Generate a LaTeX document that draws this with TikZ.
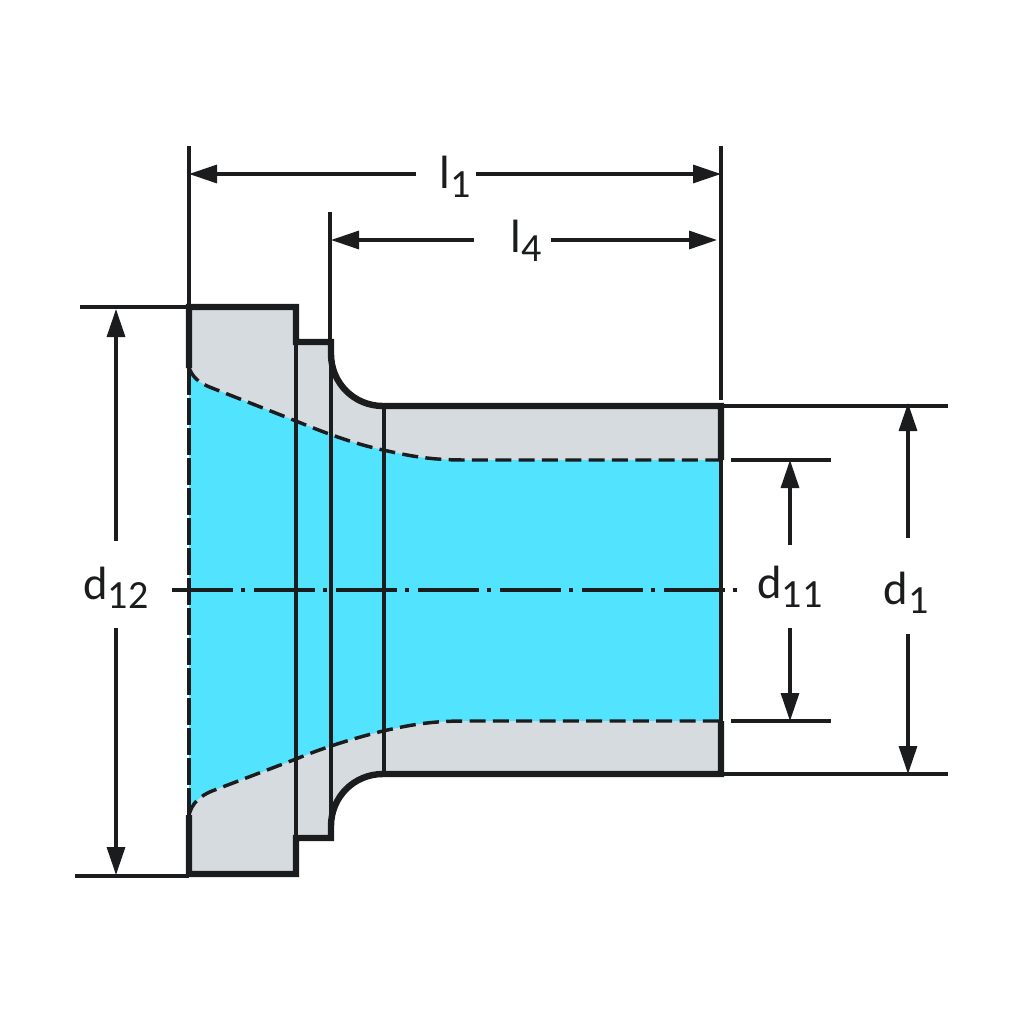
\documentclass[tikz,border=0pt]{standalone}
\usepackage{fontspec}
\setmainfont{Carlito}
\usetikzlibrary{arrows.meta}
\definecolor{inkc}{HTML}{1A1C1E}
\definecolor{bodyc}{HTML}{D5DBDF}
\definecolor{borec}{HTML}{52E3FF}
\newcommand{\lbl}[2]{{\fontsize{35}{35}\selectfont #1\raisebox{-6.5pt}{\fontsize{30}{30}\selectfont #2}}}
\tikzset{
  x=0.75pt,y=-0.75pt,
  thickline/.style={draw=inkc,line width=4.8pt,line join=miter},
  thinline/.style={draw=inkc,line width=2.5pt},
  dashline/.style={draw=inkc,line width=2.6pt,dash pattern=on 12pt off 5.5pt},
  dimline/.style={draw=inkc,line width=2.4pt},
  dimarrow/.style={dimline,-{Triangle[length=21pt,width=13.5pt]}},
  dimlabel/.style={inner sep=0pt,text=inkc,anchor=center},
}
\begin{document}
\begin{tikzpicture}
\useasboundingbox (0,0) rectangle (1024,1024);
% body
\fill[bodyc] (189,307) -- (296,307) -- (296,342) -- (331,342) -- (331,354)
  .. controls (331,383) and (354,406) .. (383,406) -- (721,406) -- (721,774) -- (383,774)
  .. controls (354,774) and (331,797) .. (331,826) -- (331,838) -- (296,838) -- (296,874) -- (189,874) -- cycle;
% bore
\fill[borec] (189,368) .. controls (194,380) and (202,384) .. (212,388)
  -- (296,421) .. controls (325,433) and (355,444) .. (383,450)
  .. controls (410,456) and (430,460) .. (465,460) -- (721,460) -- (721,721) -- (465,721)
  .. controls (430,721) and (410,725) .. (383,731)
  .. controls (355,738) and (325,747) .. (296,759) -- (212,791)
  .. controls (200,796) and (192,803) .. (189,815) -- cycle;
% section lines
\coordinate (s1t) at (296,342); \coordinate (s1b) at (296,838);
\coordinate (s2t) at (331,342); \coordinate (s2b) at (331,838);
\coordinate (s3t) at (384,406); \coordinate (s3b) at (384,774);
\draw[thinline] (s1t) -- (s1b);
\draw[thinline] (s2t) -- (s2b);
\draw[thinline] (s3t) -- (s3b);
% dashed contours
\draw[dashline] (189,368) .. controls (194,380) and (202,384) .. (212,388)
  -- (296,421) .. controls (325,433) and (355,444) .. (383,450)
  .. controls (410,456) and (430,460) .. (465,460) -- (721,460);
\draw[dashline] (189,815) .. controls (192,803) and (200,796) .. (212,791)
  -- (296,759) .. controls (325,747) and (355,738) .. (383,731)
  .. controls (410,725) and (430,721) .. (465,721) -- (721,721);
\draw[draw=inkc,line width=3pt,dash pattern=on 20pt off 2.5pt] (189,368) -- (189,815);
\draw[thinline] (721,460) -- (721,721);
% outline
\draw[thickline] (189,368) -- (189,307) -- (296,307) -- (296,342) -- (331,342) -- (331,354)
  .. controls (331,383) and (354,406) .. (383,406) -- (721,406) -- (721,460);
\draw[thickline] (189,815) -- (189,874) -- (296,874) -- (296,838) -- (331,838) -- (331,826)
  .. controls (331,797) and (354,774) .. (383,774) -- (721,774) -- (721,721);
% extension lines
\coordinate (e1a) at (189,146); \coordinate (e1b) at (189,307);
\coordinate (e2a) at (721,146); \coordinate (e2b) at (721,400);
\coordinate (e3a) at (330,212); \coordinate (e3b) at (330,342);
\draw[dimline] (e1a) -- (e1b);
\draw[dimline] (e2a) -- (e2b);
\draw[dimline] (e3a) -- (e3b);
\coordinate (e4a) at (80,307); \coordinate (e5a) at (75,876);
\draw[dimline] (e4a) -- (189,307);
\draw[dimline] (e5a) -- (189,876);
\coordinate (e6b) at (948,406); \coordinate (e7b) at (948,774);
\draw[dimline] (721,406) -- (e6b);
\draw[dimline] (721,774) -- (e7b);
\coordinate (e8a) at (731,460); \coordinate (e8b) at (831,460);
\coordinate (e9a) at (731,721); \coordinate (e9b) at (831,721);
\draw[dimline] (e8a) -- (e8b);
\draw[dimline] (e9a) -- (e9b);
% centre line
\coordinate (c1) at (172,590); \coordinate (c2) at (737,590);
\draw[draw=inkc,line width=2.4pt,dash pattern=on 45.5pt off 6pt on 3pt off 7pt] (c1) -- (c2);
% labels
\node[dimlabel] (l1) at (455,177) {\lbl{l}{1}};
\node[dimlabel] (l4) at (526,241) {\lbl{l}{4}};
\node[dimlabel] (d12) at (116,588) {\lbl{d}{12}};
\node[dimlabel] (d11) at (790,587) {\lbl{d}{11}};
\node[dimlabel] (d1) at (906,593) {\lbl{d}{1}};
% end points
\coordinate (l1L) at (189,174); \coordinate (l1R) at (721,174);
\coordinate (l4L) at (331,240); \coordinate (l4R) at (717,240);
\coordinate (d12T) at (116,309); \coordinate (d12B) at (116,875);
\coordinate (d11T) at (790,460); \coordinate (d11B) at (790,721);
\coordinate (d1T) at (908,403); \coordinate (d1B) at (908,774);
\draw[dimarrow] (416,174) -- (l1L);
\draw[dimarrow] (476,174) -- (l1R);
\draw[dimarrow] (474,240) -- (l4L);
\draw[dimarrow] (551,240) -- (l4R);
\draw[dimarrow] (116,541) -- (d12T);
\draw[dimarrow] (116,628) -- (d12B);
\draw[dimarrow] (790,545) -- (d11T);
\draw[dimarrow] (790,628) -- (d11B);
\draw[dimarrow] (908,538) -- (d1T);
\draw[dimarrow] (908,634) -- (d1B);
\end{tikzpicture}
\end{document}
